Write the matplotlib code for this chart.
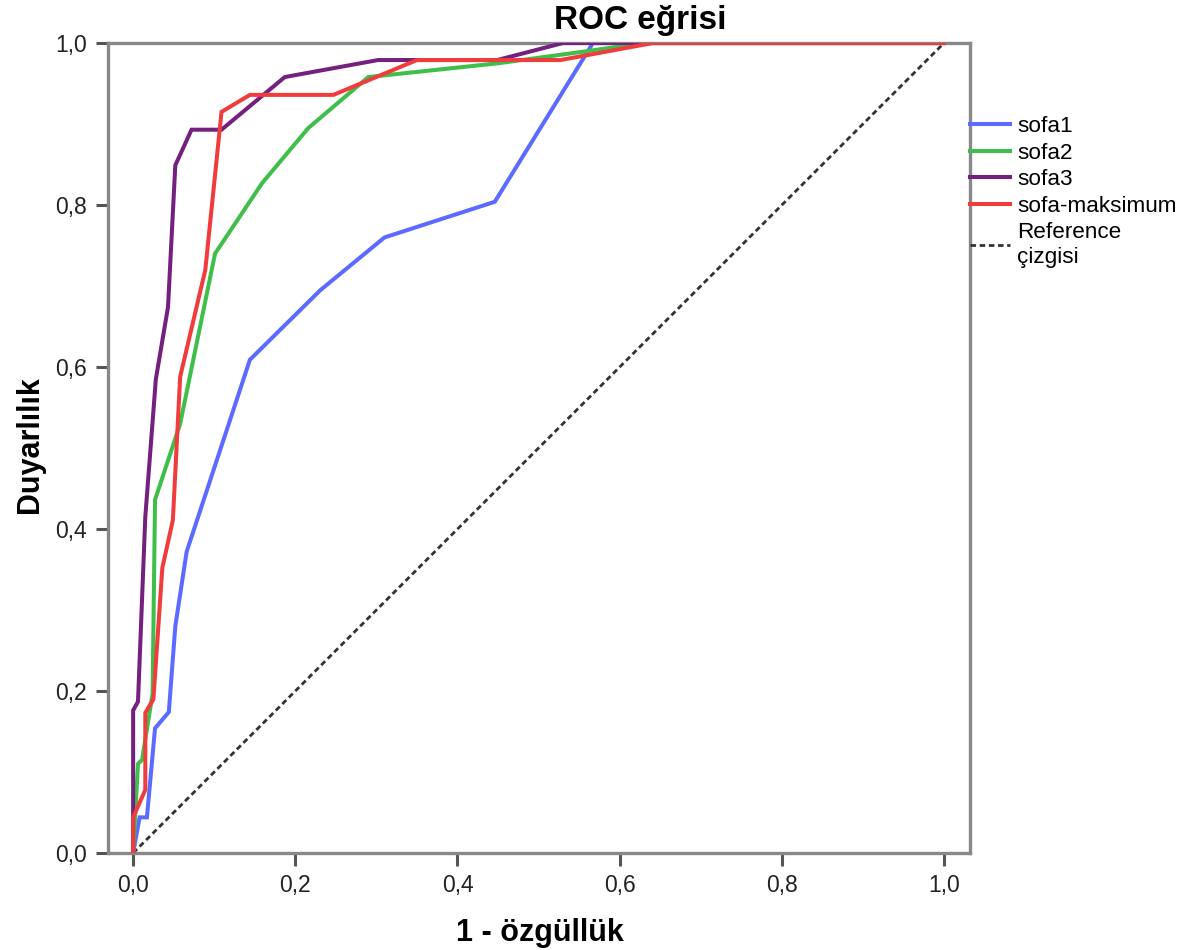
import matplotlib.pyplot as plt
import numpy as np

plt.rcParams['font.family'] = ['Liberation Sans', 'DejaVu Sans']

# ROC points (1 - specificity, sensitivity)
sofa1_x = [0.0, 0.008, 0.017, 0.027, 0.044, 0.052, 0.066, 0.144, 0.231, 0.310, 0.446, 0.567, 1.0]
sofa1_y = [0.0, 0.044, 0.044, 0.154, 0.174, 0.28, 0.372, 0.609, 0.695, 0.760, 0.804, 1.0, 1.0]

sofa2_x = [0.0, 0.006, 0.011, 0.024, 0.027, 0.058, 0.101, 0.159, 0.216, 0.290, 0.450, 0.560, 0.630, 1.0]
sofa2_y = [0.0, 0.11, 0.115, 0.197, 0.436, 0.53, 0.74, 0.827, 0.895, 0.958, 0.975, 0.99, 1.0, 1.0]

sofa3_x = [0.0, 0.0, 0.006, 0.015, 0.028, 0.043, 0.052, 0.072, 0.109, 0.187, 0.302, 0.449, 0.530, 1.0]
sofa3_y = [0.0, 0.176, 0.187, 0.415, 0.585, 0.674, 0.849, 0.893, 0.893, 0.958, 0.979, 0.979, 1.0, 1.0]

sofamax_x = [0.0, 0.0, 0.015, 0.015, 0.025, 0.036, 0.049, 0.058, 0.089, 0.109, 0.144, 0.247, 0.350, 0.527, 0.641, 1.0]
sofamax_y = [0.0, 0.044, 0.078, 0.173, 0.19, 0.352, 0.411, 0.588, 0.72, 0.915, 0.936, 0.936, 0.979, 0.979, 1.0, 1.0]

ref_x = [0.0, 1.0]
ref_y = [0.0, 1.0]

labels = ["sofa1", "sofa2", "sofa3", "sofa-maksimum"]
colors = ["#5b6bff", "#3fbf4a", "#74207e", "#f03c3c"]
ticks = [0.0, 0.2, 0.4, 0.6, 0.8, 1.0]
tick_labels = ["0,0", "0,2", "0,4", "0,6", "0,8", "1,0"]

fig = plt.figure(figsize=(12, 9.5), dpi=100)
ax = fig.add_axes([0.09, 0.1021, 0.7183, 0.8526])

curves = [(sofa1_x, sofa1_y), (sofa2_x, sofa2_y), (sofa3_x, sofa3_y), (sofamax_x, sofamax_y)]
for (xs, ys), lab, col in zip(curves, labels, colors):
    ax.plot(xs, ys, color=col, lw=2.9, label=lab, solid_joinstyle='miter', zorder=3)
ax.plot(ref_x, ref_y, color="#333333", lw=2.0, ls=(0, (2.0, 1.3)),
        label="Reference\nçizgisi", zorder=2)

ax.set_xlim(-0.031, 1.032)
ax.set_ylim(0, 1)
ax.set_xticks(ticks)
ax.set_xticklabels(tick_labels)
ax.set_yticks(ticks)
ax.set_yticklabels(tick_labels)
ax.tick_params(direction='out', length=9, width=2.2, color='#555555',
               labelsize=16.5, labelcolor='#222222', pad=6)
for s in ax.spines.values():
    s.set_color('#888888')
    s.set_linewidth(2.4)

# titles placed by hand, like the reference
fig.text(640 / 1200, 1 - 20 / 950, "ROC eğrisi", fontsize=24, fontweight='bold',
         ha='center', va='center')
fig.text(540 / 1200, 1 - 933 / 950, "1 - özgüllük", fontsize=22, fontweight='bold',
         ha='center', va='center')
fig.text(30 / 1200, 1 - 445 / 950, "Duyarlılık", fontsize=22, fontweight='bold',
         ha='center', va='center', rotation=90)

ax.legend(loc='upper left', bbox_to_anchor=(1.0, 0.91), frameon=False,
          fontsize=16.2, handlelength=1.8, handletextpad=0.3,
          borderaxespad=0, borderpad=0, labelspacing=0.25)

fig.savefig("out.png", dpi=100)
